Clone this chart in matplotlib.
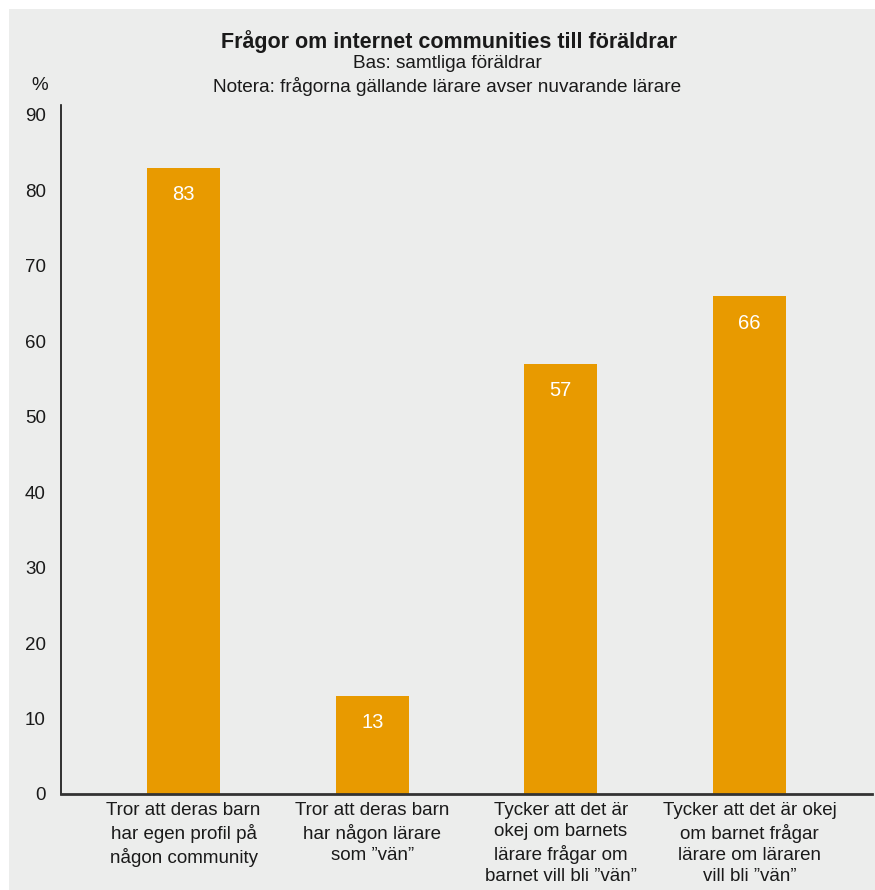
import matplotlib.pyplot as plt
from matplotlib.patches import Rectangle

categories = [
    "Tror att deras barn\nhar egen profil på\nnågon community",
    "Tror att deras barn\nhar någon lärare\nsom \u201dvän\u201d",
    "Tycker att det är\nokej om barnets\nlärare frågar om\nbarnet vill bli \u201dvän\u201d",
    "Tycker att det är okej\nom barnet frågar\nlärare om läraren\nvill bli \u201dvän\u201d",
]
values = [83, 13, 57, 66]
yticks = [0, 10, 20, 30, 40, 50, 60, 70, 80, 90]

bg = "#ECEDEC"
bar_color = "#E89A00"
txt = "#1a1a1a"

plt.rcParams['font.family'] = ['Liberation Sans', 'DejaVu Sans']

fig = plt.figure(figsize=(8.75, 8.9), dpi=100)
fig.patch.set_facecolor("white")
# grey panel, leaving a thin white strip at top and left
fig.patches.append(Rectangle((9 / 875, 0), 1, 1 - 9 / 890, transform=fig.transFigure,
                             facecolor=bg, edgecolor="none", zorder=-10))

ax = fig.add_axes([61 / 875, 1 - 794 / 890, (872 - 61) / 875, (794 - 105) / 890])
ax.set_facecolor("none")

x = range(len(values))
bars = ax.bar(x, values, width=0.385, color=bar_color, zorder=2)
for xi, v in zip(x, values):
    ax.annotate(str(v), (xi, v), xytext=(0, -19.5), textcoords="offset points",
                ha="center", va="center", color="white", fontsize=14.5)

ax.set_xlim(-0.65, 3.65)
ax.set_ylim(0, 91.3)
ax.set_yticks(yticks)
ax.set_xticks(list(x))
ax.set_xticklabels(categories, fontsize=13.5, linespacing=1.32, color=txt)
ax.tick_params(axis="y", length=0, pad=11, labelsize=13.5, labelcolor=txt)
ax.tick_params(axis="x", length=0, pad=6)

for s in ["top", "right"]:
    ax.spines[s].set_visible(False)
ax.spines["left"].set_color("#111111")
ax.spines["left"].set_linewidth(1.2)
ax.spines["bottom"].set_color("#333333")
ax.spines["bottom"].set_linewidth(2)

fig.text(0.513, 1 - 42 / 890, "Frågor om internet communities till föräldrar",
         ha="center", va="center", fontsize=15.5, fontweight="bold", color=txt)
fig.text(0.511, 1 - 63 / 890, "Bas: samtliga föräldrar", ha="center", va="center",
         fontsize=13.7, color=txt)
fig.text(0.511, 1 - 86 / 890, "Notera: frågorna gällande lärare avser nuvarande lärare",
         ha="center", va="center", fontsize=13.7, color=txt)
fig.text(40 / 875, 1 - 85 / 890, "%", ha="center", va="center", fontsize=13.5, color=txt)

fig.savefig("out.png", dpi=100, facecolor=fig.get_facecolor())
